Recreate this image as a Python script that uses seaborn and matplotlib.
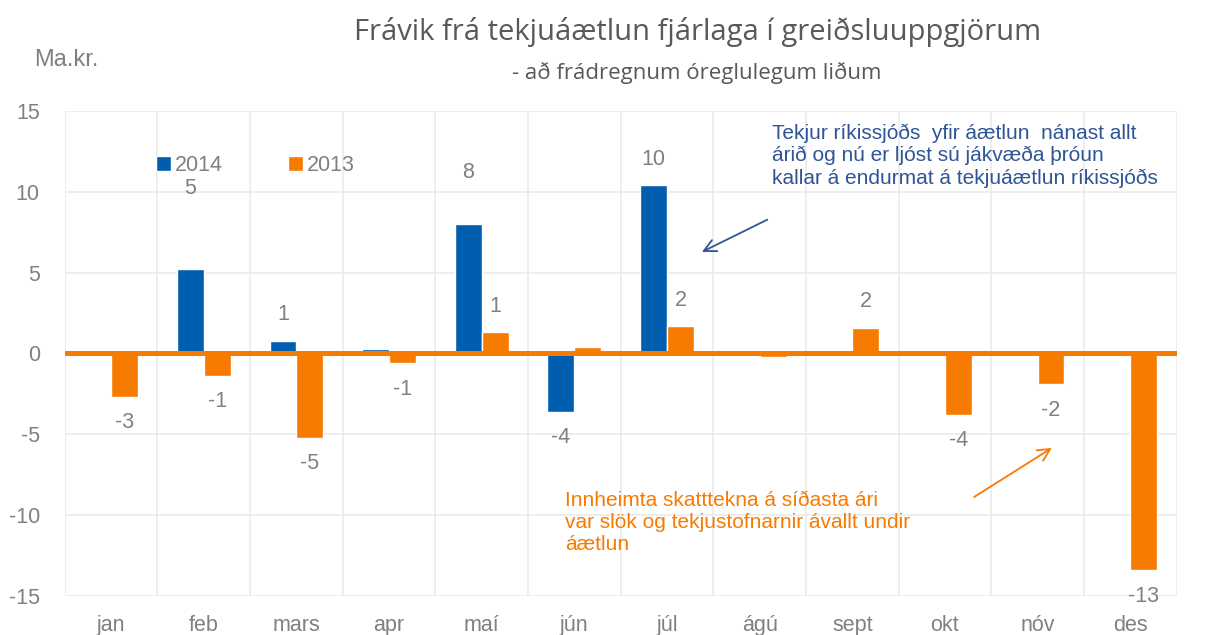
import numpy as np
import pandas as pd
import matplotlib
matplotlib.use("Agg")
import matplotlib.pyplot as plt
import seaborn as sns

months = ["jan", "feb", "mars", "apr", "maí", "jún", "júl", "ágú", "sept", "okt", "nóv", "des"]
vals_2014 = [np.nan, 5.2, 0.8, 0.25, 8.0, -3.6, 10.4, np.nan, np.nan, np.nan, np.nan, np.nan]
vals_2013 = [-2.7, -1.4, -5.2, -0.6, 1.3, 0.4, 1.7, -0.25, 1.6, -3.8, -1.9, -13.4]
labels_2014 = ["", "5", "1", "", "8", "-4", "10", "", "", "", "", ""]
labels_2013 = ["-3", "-1", "-5", "-1", "1", "", "2", "", "2", "-4", "-2", "-13"]
series = ["2014", "2013"]
yticks = [-15, -10, -5, 0, 5, 10, 15]

title = "Frávik frá tekjuáætlun fjárlaga í greiðsluuppgjörum"
subtitle = "- að frádregnum óreglulegum liðum"
ylabel = "Ma.kr."
note_blue = "Tekjur ríkissjóðs  yfir áætlun  nánast allt\nárið og nú er ljóst sú jákvæða þróun\nkallar á endurmat á tekjuáætlun ríkissjóðs"
note_orange = "Innheimta skatttekna á síðasta ári\nvar slök og tekjustofnarnir ávallt undir\náætlun"

BLUE = "#005EB0"
ORANGE = "#F77B00"
GRAY = "#808080"

df = pd.DataFrame({
    "month": months * 2,
    "value": vals_2014 + vals_2013,
    "year": ["2014"] * 12 + ["2013"] * 12,
})

sns.set_theme(style="white")
plt.rcParams["font.family"] = ["Liberation Sans", "DejaVu Sans"]

fig = plt.figure(figsize=(12.23, 6.35), dpi=100)
ax = fig.add_axes([0.053, 0.0614, 0.909, 0.764])

sns.barplot(data=df, x="month", y="value", hue="year", order=months, hue_order=series,
            palette={"2014": BLUE, "2013": ORANGE}, width=0.58, ax=ax,
            saturation=1, errorbar=None, legend=True)

ax.set_xlim(-0.5, 11.5)
ax.set_ylim(-15, 15)
ax.set_yticks(yticks)
ax.set_yticklabels([str(t) for t in yticks])
ax.set_xticks(range(12))
ax.set_xticks(np.arange(-0.5, 12, 1), minor=True)
ax.grid(True, which="minor", axis="x", color="#EBEBEB", lw=1.2)
ax.grid(True, which="major", axis="y", color="#EBEBEB", lw=1.2)
ax.grid(False, which="major", axis="x")
ax.set_axisbelow(True)
for s in ax.spines.values():
    s.set_visible(False)
ax.tick_params(axis="both", which="both", length=0)
ax.tick_params(axis="x", labelsize=15.5, labelcolor=GRAY, pad=14)
ax.tick_params(axis="y", labelsize=15.5, labelcolor=GRAY, pad=18)
ax.set_xlabel("")
ax.set_ylabel("")

# zero line
ax.axhline(0, color=ORANGE, lw=3.6, zorder=5)

# data labels
off = 1.6
special = {("2014", 1): 10.2, ("2014", 4): 11.2}
for yr, vals, labs in [("2014", vals_2014, labels_2014), ("2013", vals_2013, labels_2013)]:
    shift = -0.145 if yr == "2014" else 0.145
    for i, (v, lab) in enumerate(zip(vals, labs)):
        if not lab:
            continue
        y = special.get((yr, i), v + off if v >= 0 else v - off)
        ax.text(i + shift, y, lab, ha="center", va="center", fontsize=15.5, color=GRAY)

# legend
leg = ax.legend(loc="center left", bbox_to_anchor=(0.082, 0.887), ncol=2, frameon=False,
                fontsize=15.5, handlelength=0.7, handleheight=0.7, columnspacing=3.0,
                handletextpad=0.2, borderaxespad=0, borderpad=0)
for t in leg.get_texts():
    t.set_color(GRAY)

# annotations
ax.text(7.13, 14.2, note_blue, color="#2F5597", fontsize=15, ha="left", va="top", linespacing=1.2)
ax.annotate("", xy=(6.35, 6.2), xytext=(7.11, 8.35),
            arrowprops=dict(arrowstyle="->", color="#2F5597", lw=1.3, mutation_scale=22))
ax.text(4.9, -8.5, note_orange, color=ORANGE, fontsize=15, ha="left", va="top", linespacing=1.2)
ax.annotate("", xy=(10.18, -5.75), xytext=(9.29, -8.97),
            arrowprops=dict(arrowstyle="->", color=ORANGE, lw=1.3, mutation_scale=22))

fig.text(0.57, 0.95, title, ha="center", va="center", fontsize=21, color="#595959", family=["Open Sans", "DejaVu Sans"])
fig.text(0.57, 0.885, subtitle, ha="center", va="center", fontsize=16, color="#595959", family=["Open Sans", "DejaVu Sans"])
fig.text(0.028, 0.905, ylabel, ha="left", va="center", fontsize=17, color=GRAY)

fig.savefig("out.png", dpi=100)
